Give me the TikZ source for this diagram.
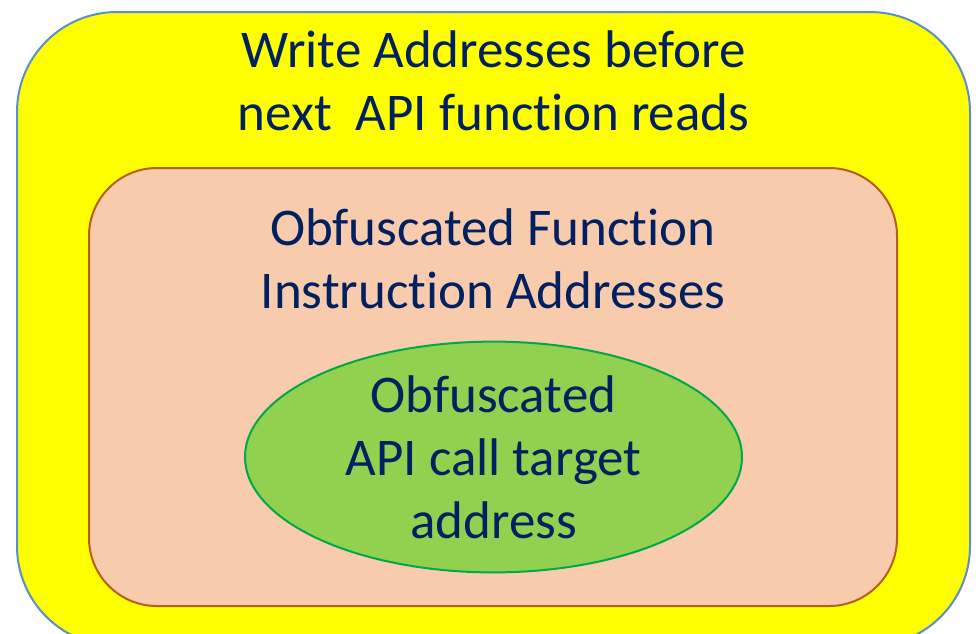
\documentclass[tikz,border=0pt]{standalone}
\usepackage{fontspec}
\setmainfont[Ligatures=NoCommon]{Carlito}
\usetikzlibrary{shapes}
\definecolor{wallyellow}{HTML}{FFFF00}
\definecolor{wallblue}{HTML}{5B8FC9}
\definecolor{funcpeach}{HTML}{F8CBAD}
\definecolor{funcbrown}{HTML}{B4601C}
\definecolor{callgreen}{HTML}{92D050}
\definecolor{callline}{HTML}{00A849}
\definecolor{labelnavy}{HTML}{002060}
\begin{document}
\begin{tikzpicture}[x=0.5pt,y=-0.5pt]
\tikzstyle{layer}=[rectangle,draw,line width=1pt,inner sep=0pt]
\tikzstyle{caption}=[align=center,inner sep=0pt,text=labelnavy,font=\fontsize{26.5}{31.5}\selectfont]
\useasboundingbox (0,0) rectangle (979,633);
\clip (0,0) rectangle (979,633);
\node[layer,fill=wallyellow,draw=wallblue,rounded corners=50pt,minimum width=476.5pt,minimum height=317pt] (writes) at (493.5,329) {};
\node[caption] (writeslabel) at (493.5,81) {Write Addresses before\\next\ \ API function reads};
\node[layer,fill=funcpeach,draw=funcbrown,rounded corners=34pt,minimum width=404pt,minimum height=219pt] (function) at (493,387) {};
\node[caption] (functionlabel) at (493,259) {Obfuscated Function\\Instruction Addresses};
\node[ellipse,draw=callline,fill=callgreen,line width=1pt,caption,minimum width=248.5pt,minimum height=113pt] (target) at (493.5,457) {Obfuscated\\API call target\\address};
\end{tikzpicture}
\end{document}
